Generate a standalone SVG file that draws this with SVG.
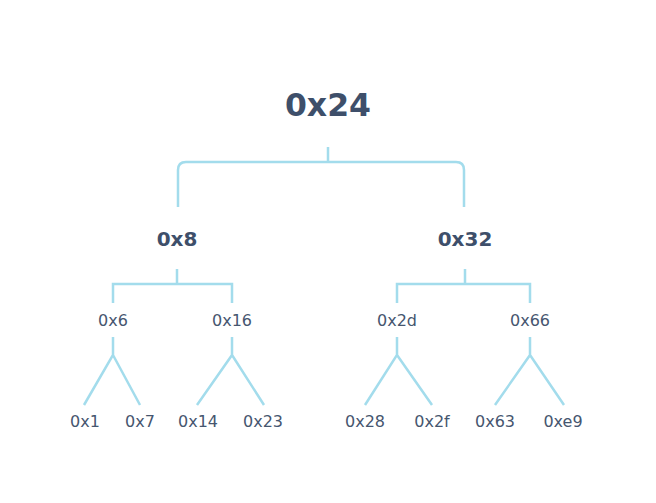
<svg xmlns="http://www.w3.org/2000/svg" width="656" height="503" viewBox="0 0 656 503">
<style>
.e{fill:none;stroke:#a3dcec;stroke-width:2.5;stroke-linecap:butt;stroke-linejoin:miter}
.t{font-family:"DejaVu Sans","Liberation Sans",sans-serif;fill:#3e4f6a;text-anchor:middle}
.r{font-size:31.5px;font-weight:bold}
.m{font-size:20px;font-weight:bold}
.l{font-size:16px;fill:#46566f}
</style>
<rect width="656" height="503" fill="#ffffff"/>
<g id="connectors">
<path class="e" d="M328,147V162M178,207V170Q178,162 186,162H456Q464,162 464,170V207"/>
<path class="e" d="M177,269V284M113,303V284H232V303"/>
<path class="e" d="M465,269V284M397,303V284H530V303"/>
<path class="e" d="M113,337V355L84,405M113,355L140,405"/>
<path class="e" d="M232,337V355L197,405M232,355L264,405"/>
<path class="e" d="M397,337V355L365,405M397,355L432,405"/>
<path class="e" d="M530,337V355L495,405M530,355L564,405"/>
</g>
<g id="n24"><text class="t r" x="328" y="116">0x24</text></g>
<g id="n8"><text class="t m" x="177" y="246">0x8</text></g>
<g id="n32"><text class="t m" x="465" y="246">0x32</text></g>
<g id="n6"><text class="t l" x="113" y="326">0x6</text></g>
<g id="n16"><text class="t l" x="232" y="326">0x16</text></g>
<g id="n2d"><text class="t l" x="397" y="326">0x2d</text></g>
<g id="n66"><text class="t l" x="530" y="326">0x66</text></g>
<g id="n1"><text class="t l" x="85" y="427">0x1</text></g>
<g id="n7"><text class="t l" x="140" y="427">0x7</text></g>
<g id="n14"><text class="t l" x="198" y="427">0x14</text></g>
<g id="n23"><text class="t l" x="263" y="427">0x23</text></g>
<g id="n28"><text class="t l" x="365" y="427">0x28</text></g>
<g id="n2f"><text class="t l" x="432" y="427">0x2f</text></g>
<g id="n63"><text class="t l" x="495" y="427">0x63</text></g>
<g id="ne9"><text class="t l" x="563" y="427">0xe9</text></g>
</svg>
